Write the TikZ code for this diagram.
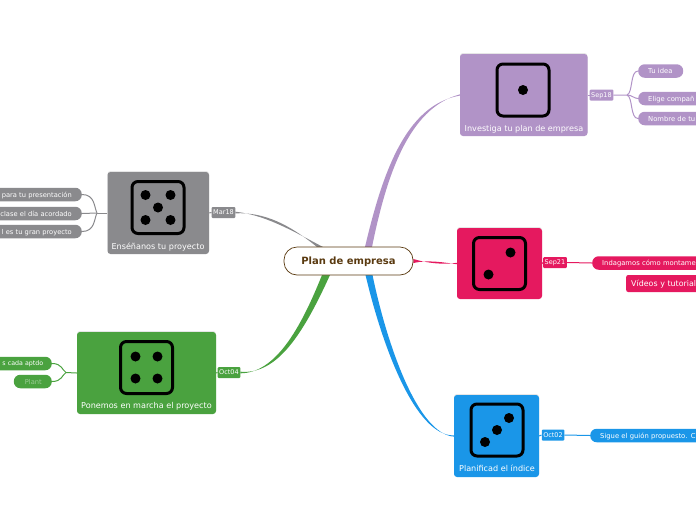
\documentclass[tikz,border=0pt]{standalone}
\usepackage{fontspec}
\setmainfont{DejaVu Sans}
\usetikzlibrary{backgrounds, shadows}
\definecolor{lila}{HTML}{B193C7}
\definecolor{rosa}{HTML}{E5195F}
\definecolor{gris}{HTML}{8A8A8D}
\definecolor{verde}{HTML}{4AA23F}
\definecolor{azul}{HTML}{1A96E8}
\definecolor{marron}{HTML}{5A3A10}
\tikzset{
    topic/.style={rounded corners=3, draw=none, minimum height=#1, inner sep=0, drop shadow={shadow xshift=0, shadow yshift=-1, opacity=.2}},
    toptext/.style={text=white, inner sep=0, text depth=0, font=\fontsize{8.1}{9}\selectfont},
    dicebox/.style={draw=black, line width=3, rounded corners=6, minimum size=52, inner sep=0},
    pip/.style={fill=black, circle, minimum size=10, inner sep=0},
    datebox/.style={rounded corners=1, text=white, minimum height=11, inner sep=1.5, text depth=0, font=\fontsize{6.5}{8}\selectfont},
    pillright/.style={rounded corners=6.5, text=white, minimum height=13.5, inner xsep=10, inner ysep=0, text depth=0, anchor=west, align=left, text width=#1, font=\fontsize{6.8}{8}\selectfont},
    pillleft/.style={rounded corners=6.5, text=white, minimum height=13.5, inner xsep=10, inner ysep=0, text depth=0, anchor=east, align=right, text width=#1, font=\fontsize{6.7}{8}\selectfont},
    thin line/.style={line width=1}
}
\newcommand{\Pips}[2]{\foreach \a/\b in {#2} \node[pip] at ([shift={(\a,\b)}]#1) {};}
\begin{document}
\begin{tikzpicture}[x=1pt, y=-1pt]
    \useasboundingbox (0,0) rectangle (696,520);
    \node[inner sep=0, rounded corners=13, minimum width=129, minimum height=28, text depth=0, draw=marron, fill=white, line width=.7, text=marron, font=\fontsize{10}{12}\bfseries\selectfont] (plan) at (348.5,261) {Plan de empresa};
    \coordinate (lilaroot) at (368.5,247);
    \coordinate (grisroot) at (320,247);
    \coordinate (verderoot) at (326,275);
    \coordinate (azulroot) at (369,275);
    \node[topic=82, fill=lila, minimum width=127.5] (investiga) at (523.75,95) {};
    \node[topic=71, fill=rosa, minimum width=85] (indaga) at (499.5,263.5) {};
    \node[topic=82, fill=gris, minimum width=101.5] (ensenanos) at (158.25,213) {};
    \node[topic=82, fill=verde, minimum width=139] (ponemos) at (146.5,373) {};
    \node[topic=82, fill=azul, minimum width=85] (planificad) at (496.5,436) {};
    \node[datebox, fill=lila] (sep18) at (601.5,95) {Sep18};
    \node[datebox, fill=rosa] (sep21) at (555,262.5) {Sep21};
    \node[datebox, fill=gris] (mar18) at (223.5,212.5) {Mar18};
    \node[datebox, fill=verde] (oct04) at (229,372.5) {Oct04};
    \node[datebox, fill=azul] (oct02) at (553,435) {Oct02};
    \node[dicebox] (diceone) at (523,90) {};
    \node[dicebox] (dicetwo) at (499.5,263.5) {};
    \node[dicebox] (dicefive) at (158,207.5) {};
    \node[dicebox] (dicefour) at (146.5,367.5) {};
    \node[dicebox] (dicethree) at (497,430) {};
    \Pips{diceone}{0/0}
    \Pips{dicetwo}{11/-11, -11/11}
    \Pips{dicefive}{-12.5/-12.5, 12.5/-12.5, 0/0, -12.5/12.5, 12.5/12.5}
    \Pips{dicefour}{-11/-11, 11/-11, -11/11, 11/11}
    \Pips{dicethree}{12/-12, 0/0, -12/12}
    \node[toptext] (investigatext) at (524,128) {Investiga tu plan de empresa};
    \node[toptext] (ensenanostext) at (158,246) {Enséñanos tu proyecto};
    \node[toptext] (ponemostext) at (146.5,405) {Ponemos en marcha el proyecto};
    \node[toptext] (planificadtext) at (497,468) {Planificad el índice};
    \node[pillright=25, fill=lila] (tuidea) at (638,71) {Tu idea};
    \node[pillright=60, fill=lila] (elige) at (638,98.5) {Elige compañ};
    \node[pillright=60, fill=lila] (nombre) at (638,118.5) {Nombre de tu};
    \node[pillright=110, fill=rosa] (indagamos) at (592,263) {Indagamos cómo montame};
    \node[rounded corners=2, fill=rosa, text=white, minimum height=17, inner sep=5, text depth=0, anchor=west, text width=80, font=\fontsize{7.9}{9}\selectfont] (videos) at (626,283.5) {Vídeos y tutorial};
    \node[pillright=110, fill=azul] (sigue) at (590,435.5) {Sigue el guión propuesto. C};
    \node[pillleft=80, fill=gris] (presenta) at (82,194.5) {para tu presentación};
    \node[pillleft=80, fill=gris] (clase) at (82,213.5) {clase el día acordado};
    \node[pillleft=80, fill=gris] (gran) at (82,231.5) {l es tu gran proyecto};
    \node[pillleft=50, inner xsep=8.5, fill=verde, font=\fontsize{6.3}{8}\selectfont] (aptdo) at (52,363.5) {s cada aptdo};
    \node[pillleft=18, fill=verde, text=white!45!verde] (plant) at (52,381.5) {Plant};
    \begin{scope}[on background layer]
        \fill[lila] ([xshift=-3.5]lilaroot) .. controls (382,175) and (405,105) .. ([yshift=-.6]investiga.west) -- ([yshift=.6]investiga.west) .. controls (408,108) and (386,178) .. ([xshift=3.5]lilaroot) -- cycle;
        \fill[rosa] ([yshift=-2]plan.east) .. controls (428,259.5) and (445,262.7) .. ([yshift=-.7]indaga.west) -- ([yshift=.7]indaga.west) .. controls (445,264.8) and (428,263.5) .. ([yshift=2]plan.east) -- cycle;
        \fill[gris] ([xshift=-3]grisroot) .. controls (290,225) and (265,212) .. ([yshift=-.8]mar18.east) -- ([yshift=.8]mar18.east) .. controls (265,215) and (291,230) .. ([xshift=3]grisroot) -- cycle;
        \fill[verde] ([xshift=-4]verderoot) .. controls (300,330) and (275,373) .. ([yshift=-.8]oct04.east) -- ([yshift=.8]oct04.east) .. controls (278,375) and (304,332) .. ([xshift=4]verderoot) -- cycle;
        \fill[azul] ([xshift=-3.5]azulroot) .. controls (382,345) and (415,436) .. ([yshift=.6]planificad.west) -- ([yshift=-.6]planificad.west) .. controls (418,434) and (387,345) .. ([xshift=3.5]azulroot) -- cycle;
    \end{scope}
    \draw[lila, thin line] (investiga.east) -- (sep18.west);
    \draw[lila, thin line] (sep18.east) -- (627,95) .. controls (633,93) and (630,71) .. (tuidea.west);
    \draw[lila, thin line] (627,95) .. controls (632,95) and (634,98.5) .. (elige.west);
    \draw[lila, thin line] (627,95) .. controls (633,97) and (630,118.5) .. (nombre.west);
    \draw[rosa, thin line] (indaga.east) -- (sep21.west);
    \draw[rosa, thin line] (sep21.east) -- (indagamos.west);
    \draw[gris, thin line] (ensenanos.east) -- (mar18.west);
    \draw[gris, thin line] (ensenanos.west) -- (97,213);
    \draw[gris, thin line] (97,213) .. controls (94,207) and (95,194.5) .. (presenta.east);
    \draw[gris, thin line] (97,213) -- (clase.east);
    \draw[gris, thin line] (97,213) .. controls (94,219) and (95,231.5) .. (gran.east);
    \draw[verde, thin line] (ponemos.east) -- (oct04.west);
    \draw[verde, thin line] (ponemos.west) -- (66,372.5);
    \draw[verde, thin line] (66,372.5) .. controls (62,370) and (62,363.5) .. (aptdo.east);
    \draw[verde, thin line] (66,372.5) .. controls (62,375) and (62,381.5) .. (plant.east);
    \draw[azul, thin line] (planificad.east) -- (oct02.west);
    \draw[azul, thin line] (oct02.east) -- (sigue.west);
\end{tikzpicture}
\end{document}
